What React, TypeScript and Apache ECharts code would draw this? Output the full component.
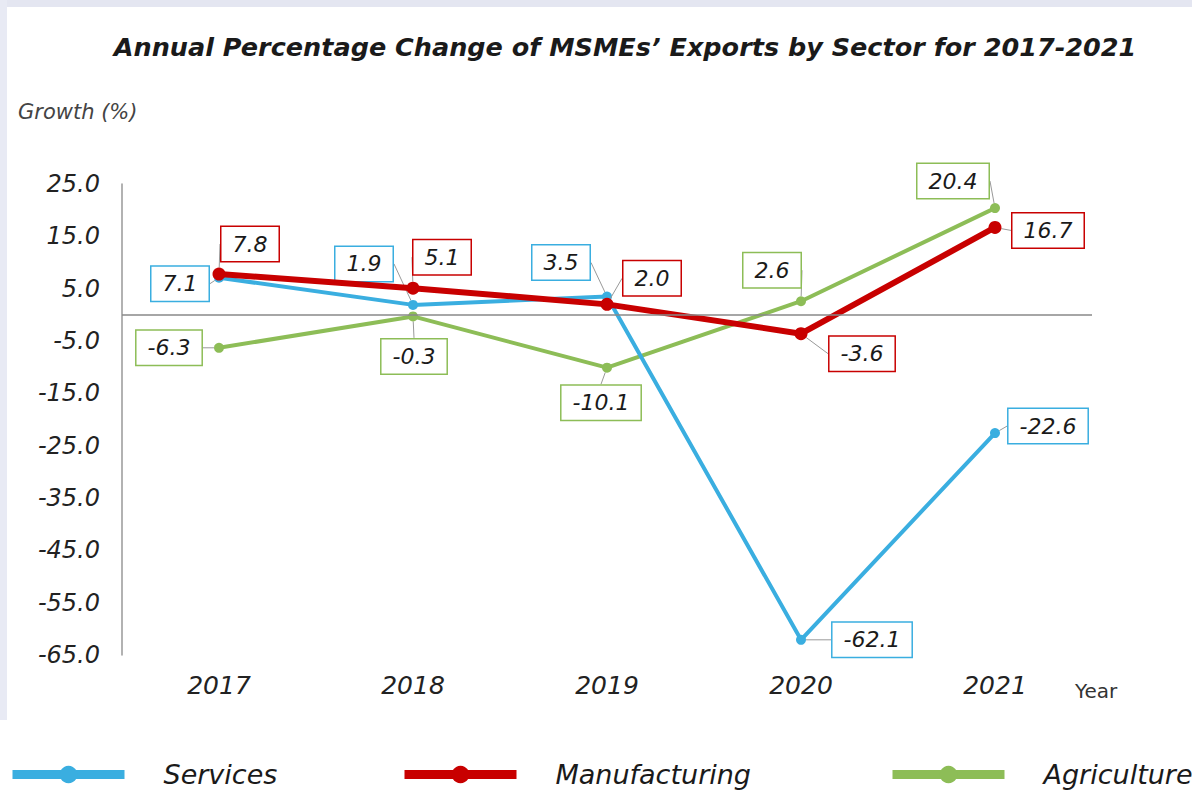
import React, { useEffect, useRef } from "react";
import * as echarts from "echarts";

const years = ["2017", "2018", "2019", "2020", "2021"];
const services = [7.1, 1.9, 3.5, -62.1, -22.6];
const manufacturing = [7.8, 5.1, 2.0, -3.6, 16.7];
const agriculture = [-6.3, -0.3, -10.1, 2.6, 20.4];
const servicesOffsets = [[-39, 6], [-49, -41], [-46, -34], [71, 0], [53, -7]];
const manufacturingOffsets = [[31, -30], [29, -31], [45, -26], [61, 20], [53, 3]];
const agricultureOffsets = [[-50, 0], [1, 40], [-6, 35], [-29, -31], [-42, -27]];

const C_SERV = "#3aaee0";
const C_MANU = "#c80000";
const C_AGRI = "#8dbd57";
const FONT = "'DejaVu Sans', 'Liberation Sans', Arial, sans-serif";

function mkLabel(color: string) {
  return {
    show: true,
    position: "inside",
    formatter: (p: any) => Number(p.value).toFixed(1),
    fontFamily: FONT,
    fontStyle: "italic",
    fontSize: 22,
    color: "#1a1a1a",
    backgroundColor: "#ffffff",
    borderColor: color,
    borderWidth: 1.5,
    padding: [7, 11, 5, 11],
  };
}

function mkLayout(offs: number[][]) {
  return (p: any) => ({ dx: offs[p.dataIndex][0], dy: offs[p.dataIndex][1] });
}

export default function App() {
  const ref = useRef<HTMLDivElement>(null);
  useEffect(() => {
    const chart = echarts.init(ref.current!, undefined, { renderer: "svg" });
    const legendBase = {
      orient: "horizontal",
      top: 761,
      padding: 0,
      itemWidth: 112,
      itemHeight: 22,
      lineStyle: { width: 9 },
      textStyle: {
        fontFamily: FONT,
        fontStyle: "italic",
        fontSize: 27,
        color: "#1a1a1a",
        padding: [0, 0, 0, 34],
      },
    };
    const guide = { show: true, lineStyle: { color: "#999", width: 1 } };
    chart.setOption({
      animation: false,
      backgroundColor: "#ffffff",
      title: {
        text: "Annual Percentage Change of MSMEs\u2019 Exports by Sector for 2017-2021",
        left: 620,
        textAlign: "center",
        top: 29,
        textStyle: {
          fontFamily: FONT,
          fontStyle: "italic",
          fontWeight: "bold",
          fontSize: 25.5,
          color: "#1a1a1a",
        },
      },
      graphic: [
        { type: "rect", shape: { x: 0, y: 0, width: 1192, height: 7 }, style: { fill: "#e4e6f1" }, silent: true },
        { type: "rect", shape: { x: 0, y: 0, width: 7, height: 720 }, style: { fill: "#e8eaf4" }, silent: true },
        {
          type: "text",
          left: 18,
          top: 101,
          style: { text: "Growth (%)", fontFamily: FONT, fontStyle: "italic", fontSize: 21, fill: "#444" },
        },
        {
          type: "text",
          left: 1075,
          top: 681,
          style: { text: "Year", fontFamily: FONT, fontSize: 20, fill: "#333" },
        },
      ],
      legend: [
        { ...legendBase, left: 8, data: ["Services"] },
        { ...legendBase, left: 400, data: ["Manufacturing"] },
        { ...legendBase, left: 888, data: ["Agriculture"] },
      ],
      grid: { left: 122, right: 100, top: 184, bottom: 152 },
      xAxis: {
        type: "category",
        data: years,
        boundaryGap: true,
        axisLine: { show: false, onZero: false },
        axisTick: { show: false },
        axisLabel: {
          margin: 18,
          fontFamily: FONT,
          fontStyle: "italic",
          fontSize: 25,
          color: "#222",
        },
      },
      yAxis: {
        type: "value",
        min: -65,
        max: 25,
        interval: 5,
        axisLine: { show: true, lineStyle: { color: "#999", width: 1.5 } },
        axisTick: { show: false },
        splitLine: { show: false },
        axisLabel: {
          margin: 22,
          fontFamily: FONT,
          fontStyle: "italic",
          fontSize: 24,
          color: "#222",
          formatter: (v: number) => (Math.round(v + 65) % 10 === 0 ? v.toFixed(1) : ""),
        },
      },
      series: [
        {
          name: "Services",
          type: "line",
          data: services,
          color: C_SERV,
          lineStyle: { width: 4, color: C_SERV },
          itemStyle: { color: C_SERV },
          symbol: "circle",
          symbolSize: 10,
          label: mkLabel(C_SERV),
          labelLine: guide,
          labelLayout: mkLayout(servicesOffsets),
          markLine: {
            silent: true,
            symbol: "none",
            label: { show: false },
            lineStyle: { color: "#888", width: 1.5, type: "solid" },
            data: [{ yAxis: 0 }],
          },
          z: 3,
        },
        {
          name: "Manufacturing",
          type: "line",
          data: manufacturing,
          color: C_MANU,
          lineStyle: { width: 6, color: C_MANU },
          itemStyle: { color: C_MANU },
          symbol: "circle",
          symbolSize: 13,
          label: mkLabel(C_MANU),
          labelLine: guide,
          labelLayout: mkLayout(manufacturingOffsets),
          z: 4,
        },
        {
          name: "Agriculture",
          type: "line",
          data: agriculture,
          color: C_AGRI,
          lineStyle: { width: 4, color: C_AGRI },
          itemStyle: { color: C_AGRI },
          symbol: "circle",
          symbolSize: 10,
          label: mkLabel(C_AGRI),
          labelLine: guide,
          labelLayout: mkLayout(agricultureOffsets),
          z: 2,
        },
      ],
    });
    return () => chart.dispose();
  }, []);
  return (
    <div
      ref={ref}
      style={{ position: "fixed", left: 0, top: 0, width: 1192, height: 807, background: "#fff" }}
    />
  );
}
